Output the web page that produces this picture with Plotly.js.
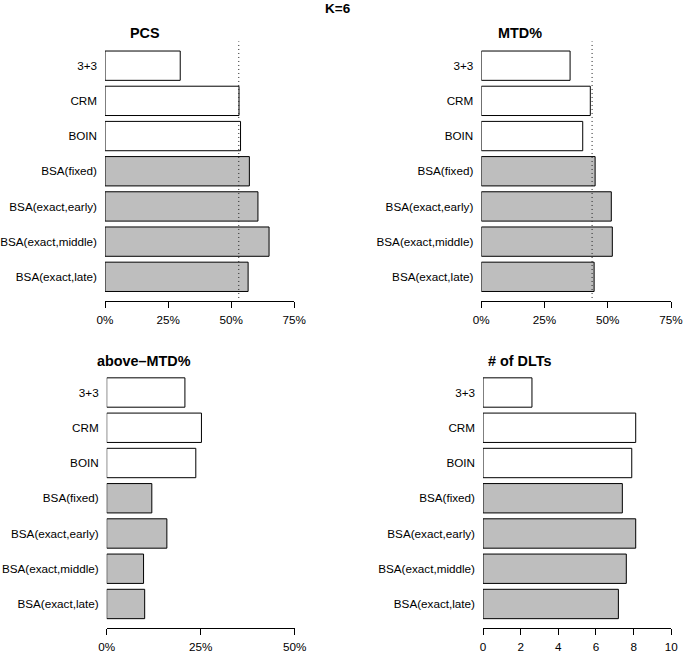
<!DOCTYPE html>
<html>
<head>
<meta charset="utf-8">
<script src="https://cdn.plot.ly/plotly-3.0.1.min.js"></script>
<style>html,body{margin:0;padding:0;background:#fff;}#chart{width:685px;height:652px;}</style>
</head>
<body>
<div id="chart"></div>
<script>
const methods = ['3+3','CRM','BOIN','BSA(fixed)','BSA(exact,early)','BSA(exact,middle)','BSA(exact,late)'];
const pcs = [29.8, 53.1, 53.7, 57.2, 60.6, 65.0, 56.7];
const mtdPct = [35.1, 43.1, 40.1, 45.0, 51.4, 51.8, 44.6];
const aboveMtd = [20.8, 25.2, 23.7, 12.0, 16.0, 9.8, 10.1];
const dlts = [2.60, 8.11, 7.90, 7.40, 8.11, 7.61, 7.19];
const fills = ['#FFFFFF','#FFFFFF','#FFFFFF','#BEBEBE','#BEBEBE','#BEBEBE','#BEBEBE'];
const refPCS = 53.0;
const refMTD = 43.8;
const panelTitles = ['PCS','MTD%','above\u2013MTD%','# of DLTs'];
const mainTitle = 'K=6';

const W = 685, H = 652;
const FONT = 'Liberation Sans, Arial, Helvetica, sans-serif';
const fx = p => p / W;
const fy = p => 1 - p / H;

const panels = [
  {vals: pcs, xd: [105, 294.3], yd: [41.4, 301.1], range: [0, 75], dtick: 25, suf: '%', title: panelTitles[0], tx: 145, ty: 33.5},
  {vals: mtdPct, xd: [481.3, 671], yd: [41.4, 301.1], range: [0, 75], dtick: 25, suf: '%', title: panelTitles[1], tx: 520, ty: 33.5},
  {vals: aboveMtd, xd: [106.7, 294.7], yd: [368.2, 628.3], range: [0, 50], dtick: 25, suf: '%', title: panelTitles[2], tx: 144, ty: 361},
  {vals: dlts, xd: [483, 671.3], yd: [368.2, 628.3], range: [0, 10], dtick: 2, suf: '', title: panelTitles[3], tx: 519.7, ty: 361}
];

const data = [];
const layout = {
  width: W, height: H,
  margin: {l: 0, r: 0, t: 0, b: 0},
  paper_bgcolor: '#fff', plot_bgcolor: 'rgba(0,0,0,0)',
  showlegend: false,
  font: {family: FONT, size: 11.7, color: '#000'},
  annotations: [],
  shapes: []
};

panels.forEach((p, i) => {
  const n = i === 0 ? '' : String(i + 1);
  data.push({
    type: 'bar', orientation: 'h',
    x: p.vals, y: methods.map((m, k) => k),
    xaxis: 'x' + n, yaxis: 'y' + n,
    width: 0.8333,
    marker: {color: fills, line: {color: '#000', width: 1}},
    hoverinfo: 'skip'
  });
  layout['xaxis' + n] = {
    domain: [fx(p.xd[0]), fx(p.xd[1])],
    anchor: 'y' + n,
    range: p.range, dtick: p.dtick, tick0: 0, ticksuffix: p.suf,
    showgrid: false, zeroline: false,
    showline: true, linecolor: '#000', linewidth: 1,
    ticks: 'outside', ticklen: 6, tickwidth: 1, tickcolor: '#000',
    ticklabelstandoff: 2,
    tickfont: {family: FONT, size: 11.7, color: '#000'},
    fixedrange: true
  };
  layout['yaxis' + n] = {
    domain: [fy(p.yd[1]), fy(p.yd[0])],
    anchor: 'x' + n,
    range: [6.69, -0.69],
    tickmode: 'array', tickvals: methods.map((m, k) => k), ticktext: methods,
    showgrid: false, zeroline: false, showline: false,
    ticks: '', ticklabelstandoff: 7,
    tickfont: {family: FONT, size: 11.7, color: '#000'},
    fixedrange: true
  };
  layout.annotations.push({
    text: '<b>' + p.title + '</b>', xref: 'paper', yref: 'paper',
    x: fx(p.tx), y: fy(p.ty), xanchor: 'center', yanchor: 'middle',
    showarrow: false, font: {family: FONT, size: 14.4, color: '#000'}
  });
});

[[refPCS, ''], [refMTD, '2']].forEach(([v, n]) => {
  layout.shapes.push({
    type: 'line', xref: 'x' + n, yref: 'y' + n + ' domain',
    x0: v, x1: v, y0: 0.012, y1: 1,
    line: {color: '#222', width: 1, dash: '1px,3px'}
  });
});

layout.annotations.push({
  text: '<b>' + mainTitle + '</b>', xref: 'paper', yref: 'paper',
  x: fx(338), y: fy(8), xanchor: 'center', yanchor: 'middle',
  showarrow: false, font: {family: FONT, size: 13.5, color: '#000'}
});

Plotly.newPlot('chart', data, layout, {displayModeBar: false, staticPlot: true});
</script>
</body>
</html>
